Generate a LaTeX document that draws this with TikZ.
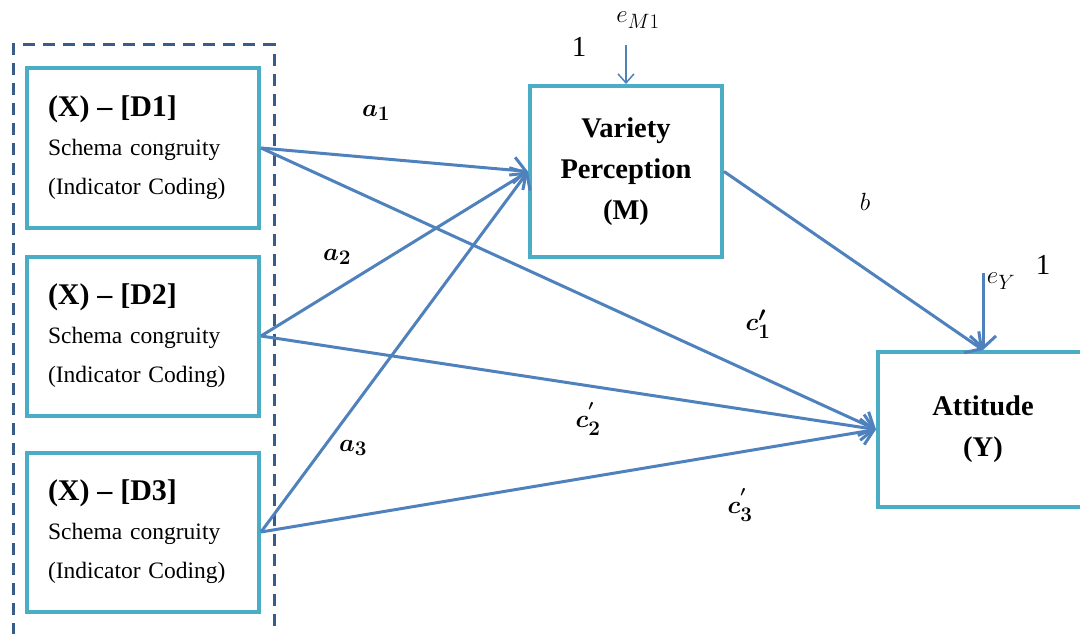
\documentclass[tikz,border=0pt]{standalone}
\usepackage{fontspec}
\setmainfont{Liberation Serif}
\usetikzlibrary{arrows.meta}
\definecolor{boxc}{HTML}{4BACC6}
\definecolor{arrc}{HTML}{4F81BD}
\definecolor{dashc}{HTML}{385D8A}
\begin{document}
\begin{tikzpicture}[x=1pt,y=-1pt,
  xbox/.style={draw=boxc, line width=4pt, minimum width=232pt, minimum height=159pt,
    inner xsep=21pt, inner ysep=0pt, text width=190pt, align=left,
    font=\fontsize{23.5}{39}\selectfont},
  mbox/.style={draw=boxc, line width=4pt, inner sep=0pt, align=center,
    font=\bfseries\fontsize{28.5}{41}\selectfont},
  grp/.style={draw=dashc, line width=3pt, dash pattern=on 12pt off 8pt,
    minimum width=261pt, minimum height=600pt, inner sep=0pt},
  arr/.style={draw=arrc, line width=3pt, -{Straight Barb[length=12pt,width=26pt]}},
  thinarr/.style={draw=arrc, line width=1.5pt, -{Straight Barb[length=9pt,width=16pt]}},
  lab/.style={font=\fontsize{28}{30}\selectfont\boldmath, inner sep=0pt},
  plain/.style={font=\fontsize{29}{31}\selectfont, inner sep=0pt}
]
\useasboundingbox (0,0) rectangle (1080,634);
\clip (0,0) rectangle (1080,634);

\node[grp] (grp) at (143.5,345) {};

\node[xbox] (d1) at (143,148) {{\bfseries\fontsize{30}{39}\selectfont (X) – [D1]}\\Schema congruity\\(Indicator Coding)};
\node[xbox] (d2) at (143,336) {{\bfseries\fontsize{30}{39}\selectfont (X) – [D2]}\\Schema congruity\\(Indicator Coding)};
\node[xbox] (d3) at (143,532) {{\bfseries\fontsize{30}{39}\selectfont (X) – [D3]}\\Schema congruity\\(Indicator Coding)};

\node[mbox, minimum width=192pt, minimum height=171pt] (m) at (626,171.5) {Variety\\Perception\\(M)};
\node[mbox, minimum width=210pt, minimum height=155pt] (y) at (983,429.5) {Attitude\\(Y)};

\draw[arr] (d1.east) -- (m.west);
\draw[arr] (d2.east) -- (m.west);
\draw[arr] (d3.east) -- (m.west);
\draw[arr] (d1.east) -- (y.west);
\draw[arr] (d2.east) -- (y.west);
\draw[arr] (d3.east) -- (y.west);
\draw[arr] (m.east) -- (y.north);

\coordinate (em) at (626,45);
\coordinate (ey) at (983,273);
\draw[thinarr] (em) -- (m.north);
\draw[arr] (ey) -- (y.north);

\node[plain] (em1) at (638,20) {$e_{M1}$};
\node[plain] (one1) at (579,47) {1};
\node[plain] (ey1) at (1001,281) {$e_{Y}$};
\node[plain] (one2) at (1043,265) {1};

\node[lab] (a1) at (376,113) {$a_{1}$};
\node[lab] (a2) at (337,257) {$a_{2}$};
\node[lab] (a3) at (353,448) {$a_{3}$};
\node[plain] (b) at (865,202) {$b$};
\node[lab] (c1) at (758,324) {$c'_{1}$};
\node[lab] (c2) at (588,419) {$c_{2}^{'}$};
\node[lab] (c3) at (740,505) {$c_{3}^{'}$};
\end{tikzpicture}
\end{document}
